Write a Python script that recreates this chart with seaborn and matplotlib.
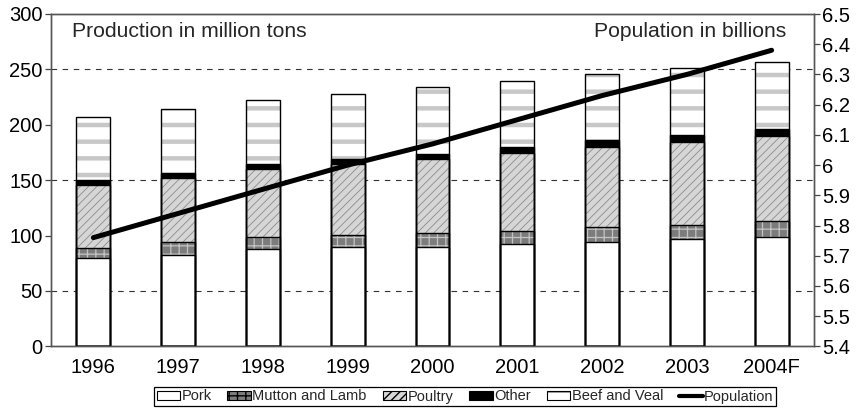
import numpy as np
import pandas as pd
import matplotlib
matplotlib.use("Agg")
import matplotlib.pyplot as plt
from matplotlib.patches import Patch
from matplotlib.lines import Line2D
import seaborn as sns

# ---- data ----
years = ["1996", "1997", "1998", "1999", "2000", "2001", "2002", "2003", "2004F"]
pork = [79.4, 82.7, 88.0, 89.5, 90.1, 92.5, 94.6, 97.0, 99.1]
mutton = [9.8, 11.3, 11.1, 11.4, 11.9, 12.0, 12.9, 12.9, 14.4]
poultry = [56.1, 58.0, 60.8, 63.5, 66.8, 69.7, 72.7, 74.8, 76.3]
other = [5.0, 4.8, 5.0, 5.0, 5.1, 5.7, 5.7, 5.7, 6.0]
beef = [56.6, 57.8, 57.8, 58.3, 60.1, 59.9, 60.1, 61.3, 60.7]
population = [5.76, 5.84, 5.92, 6.00, 6.07, 6.15, 6.23, 6.30, 6.38]

left_ticks = [0, 50, 100, 150, 200, 250, 300]
right_ticks = [5.4, 5.5, 5.6, 5.7, 5.8, 5.9, 6.0, 6.1, 6.2, 6.3, 6.4, 6.5]
grid_vals = [50, 150, 250]

sns.set_style("white")
plt.rcParams["font.family"] = ["Liberation Sans", "DejaVu Sans"]

fig = plt.figure(figsize=(8.62, 4.09), dpi=100)
ax = fig.add_axes([51 / 862, (409 - 346.4) / 409, (814 - 51) / 862, (346.4 - 14) / 409])

df = pd.DataFrame({"year": years, "Pork": pork, "Mutton and Lamb": mutton,
                   "Poultry": poultry, "Other": other, "Beef and Veal": beef})
order = ["Pork", "Mutton and Lamb", "Poultry", "Other", "Beef and Veal"]
cum = df[order].cumsum(axis=1)

styles = {
    "Pork": dict(face="white", hatch=None, hcolor="white", hlw=0.5),
    "Mutton and Lamb": dict(face="#7c7c7c", hatch="++", hcolor="#c4c4c4", hlw=0.9),
    "Poultry": dict(face="#d6d6d6", hatch="////", hcolor="#8c8c8c", hlw=0.6),
    "Other": dict(face="black", hatch=None, hcolor="black", hlw=0.5),
    "Beef and Veal": dict(face="white", hatch="-", hcolor="#c8c8c8", hlw=3.2),
}

BW = 0.4
# fills: tallest cumulative first, then shorter ones over it
for name in reversed(order):
    st = styles[name]
    with plt.rc_context({"hatch.linewidth": st["hlw"]}):
        n0 = len(ax.patches)
        sns.barplot(x=df["year"], y=cum[name], ax=ax, color=st["face"], width=BW,
                    saturation=1, hatch=st["hatch"], edgecolor=st["hcolor"],
                    linewidth=0, zorder=2)
        for p in ax.patches[n0:]:
            p.set_facecolor(st["face"])
            if hasattr(p, "set_hatch_linewidth"):
                p.set_hatch_linewidth(st["hlw"])
# outlines
for name in reversed(order):
    sns.barplot(x=df["year"], y=cum[name], ax=ax, color="black", width=BW,
                fill=False, linewidth=1.0, zorder=3)

for g in grid_vals:
    ax.axhline(g, color="#333333", linewidth=0.8, dashes=(5, 5), zorder=1)

ax.set_xlim(-0.5, len(years) - 0.5)
ax.set_ylim(0, 300)
ax.set_yticks(left_ticks)
ax.set_xlabel("")
ax.set_ylabel("")
ax.set_xticks(np.arange(len(years)))
ax.set_xticklabels(years)
ax.set_xticks(np.arange(len(years) + 1) - 0.5, minor=True)
ax.tick_params(axis="x", which="major", length=0, labelsize=14.5, pad=8, colors="black")
ax.tick_params(axis="x", which="minor", length=4, width=0.9, direction="out", color="#444444")
ax.tick_params(axis="y", which="major", length=4, width=0.9, direction="out",
               labelsize=14.5, pad=2, color="#444444", labelcolor="black", left=True)
for s in ax.spines.values():
    s.set_visible(True)
    s.set_color("#555555")
    s.set_linewidth(1.0)

ax2 = ax.twinx()
sns.lineplot(x=np.arange(len(years)), y=population, ax=ax2, color="black",
             linewidth=3.6, zorder=5)
ax2.set_ylim(5.4, 6.5)
ax2.set_yticks(right_ticks)
ax2.set_yticklabels([f"{v:g}" for v in right_ticks])
ax2.set_ylabel("")
ax2.tick_params(axis="y", length=4, width=0.9, direction="out", labelsize=14.5,
                pad=2, color="#444444", labelcolor="black", right=True)
for s in ax2.spines.values():
    s.set_visible(True)
    s.set_color("#555555")
    s.set_linewidth(1.0)
ax2.set_xlim(-0.5, len(years) - 0.5)

ax.text(0.028, 0.975, "Production in million tons", transform=ax.transAxes,
        ha="left", va="top", fontsize=15.2, zorder=6)
ax.text(0.963, 0.975, "Population in billions", transform=ax.transAxes,
        ha="right", va="top", fontsize=15.2, zorder=6)

handles = []
for name in order:
    st = styles[name]
    handles.append(Patch(facecolor=st["face"], edgecolor="black", hatch=st["hatch"],
                         linewidth=0.8, label=name))
handles.append(Line2D([], [], color="black", linewidth=3, label="Population"))
leg = fig.legend(handles=handles, loc="center", bbox_to_anchor=(465 / 862, 12.5 / 409),
                 ncol=6, fontsize=10.5, frameon=True, fancybox=False, framealpha=1,
                 edgecolor="black", borderpad=0.2, handlelength=1.6, handleheight=0.55,
                 handletextpad=0.1, columnspacing=1.1, borderaxespad=0)
leg.get_frame().set_linewidth(0.9)

fig.savefig("out.png", dpi=100)
